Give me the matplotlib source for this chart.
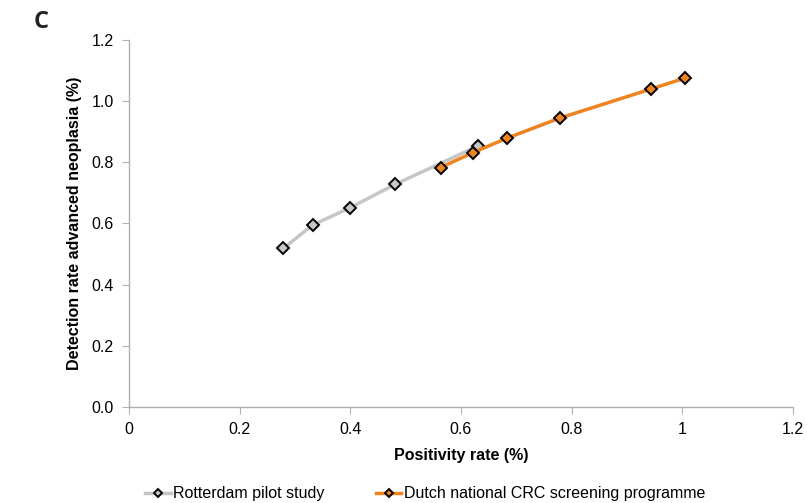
import matplotlib
matplotlib.use("Agg")
import matplotlib.pyplot as plt

plt.rcParams['font.family'] = ['Liberation Sans', 'DejaVu Sans']

rot_x = [0.279, 0.332, 0.399, 0.481, 0.630]
rot_y = [0.519, 0.595, 0.651, 0.728, 0.853]
nat_x = [0.563, 0.622, 0.683, 0.779, 0.944, 1.004]
nat_y = [0.783, 0.832, 0.879, 0.945, 1.040, 1.075]
xticks = [0, 0.2, 0.4, 0.6, 0.8, 1, 1.2]
xticklabels = ['0', '0.2', '0.4', '0.6', '0.8', '1', '1.2']
yticks = [0.0, 0.2, 0.4, 0.6, 0.8, 1.0, 1.2]

fig = plt.figure(figsize=(8.07, 5.03), dpi=100)
ax = fig.add_axes([0.1599, 0.1909, 0.8227, 0.7296])

gray = '#c6c6c6'
orange = '#ee8420'
ax.plot(rot_x, rot_y, color=gray, lw=2.5, marker='D', ms=6,
        mfc=gray, mec='black', mew=1.4, label='Rotterdam pilot study', zorder=3)
ax.plot(nat_x, nat_y, color=orange, lw=2.5, marker='D', ms=6,
        mfc=orange, mec='black', mew=1.4, label='Dutch national CRC screening programme', zorder=4)

ax.set_xlim(0, 1.2)
ax.set_ylim(0, 1.2)
ax.set_xticks(xticks)
ax.set_xticklabels(xticklabels)
ax.set_yticks(yticks)
ax.set_yticklabels([f'{v:.1f}' for v in yticks])
for s in ['top', 'right']:
    ax.spines[s].set_visible(False)
for s in ['left', 'bottom']:
    ax.spines[s].set_color('#b0b0b0')
    ax.spines[s].set_linewidth(1.0)
ax.tick_params(axis='both', direction='out', length=5, color='#b0b0b0',
               labelsize=11.5, pad=6)
ax.set_xlabel('Positivity rate (%)', fontsize=11.5, fontweight='bold', labelpad=8)
ax.set_ylabel('Detection rate advanced neoplasia (%)', fontsize=11.5, fontweight='bold', labelpad=7)

fig.text(0.042, 0.945, 'C', fontsize=17, fontweight='bold', family=['Open Sans', 'DejaVu Sans'],
         color='#222222')

fig.legend(loc='lower center', bbox_to_anchor=(0.527, -0.025), ncol=2, frameon=False,
           fontsize=11.5, handlelength=1.6, columnspacing=3.2, handletextpad=0.15,
           markerscale=0.7)

fig.savefig('out.png', dpi=100)
